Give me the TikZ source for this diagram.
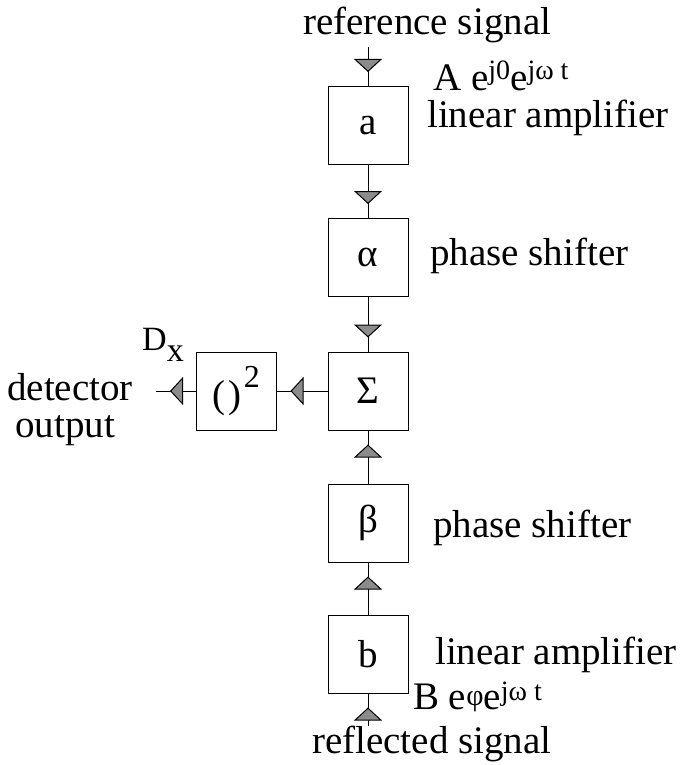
\documentclass[tikz,border=0pt]{standalone}
\usepackage{fontspec}
\setmainfont{Liberation Serif}
\usetikzlibrary{arrows.meta, decorations.markings}

% raised small text for the exponents
\newcommand{\upper}[2][11pt]{\raisebox{#1}{\fontsize{28}{28}\selectfont #2}}

\begin{document}
\begin{tikzpicture}[x=1pt,y=-1pt,
    blk/.style={draw, line width=1pt, minimum width=80pt, minimum height=78pt,
        inner sep=0pt, font=\fontsize{39}{40}\selectfont},
    txt/.style={inner sep=0pt, anchor=base west, font=\fontsize{39}{40}\selectfont},
    feed/.style={line width=1pt,
        decoration={markings, mark=at position -14pt with
            {\arrow{Triangle[width=28pt,length=13pt,fill=gray!90]}}},
        postaction={decorate}}]
    \useasboundingbox (0,0) rectangle (681,765);

    % Blocks
    \node[blk] (a) at (368,125.5) {a};
    \node[blk] (alpha) at (368,257.5) {α};
    \node[blk] (sum) at (368,391) {Σ};
    \node[blk] (beta) at (368,523) {β};
    \node[blk] (b) at (368,654) {b};
    \node[blk] (sq) at (236,391) {(\kern4pt)\kern2pt\raisebox{20pt}{\fontsize{32}{32}\selectfont 2}};

    % Free ends
    \coordinate (top) at (368,47);
    \coordinate (bot) at (368,726);
    \coordinate (out) at (156,391);

    % Signal path
    \draw[feed] (top) -- (a);
    \draw[feed] (a) -- (alpha);
    \draw[feed] (alpha) -- (sum);
    \draw[feed] (beta) -- (sum);
    \draw[feed] (b) -- (beta);
    \draw[feed] (bot) -- (b);
    \draw[feed] (sum) -- (sq);
    \draw[feed] (sq) -- (out);

    % Labels
    \node[txt] (ref) at (303,35) {reference signal};
    \node[txt] (ain) at (433,91) {A e\upper{j0}e\upper{jω t}};
    \node[txt] (lina) at (427,128) {linear amplifier};
    \node[txt] (pha) at (430,265) {phase shifter};
    \node[txt, font=\fontsize{34}{34}\selectfont] (dx) at (142,350) {D\raisebox{-11pt}{x}};
    \node[txt] (det) at (7,400) {detector};
    \node[txt] (outp) at (15,437) {output};
    \node[txt] (phb) at (433,537) {phase shifter};
    \node[txt] (linb) at (435,664) {linear amplifier};
    \node[txt] (bin) at (413,709) {B e\upper[4pt]{\fontsize{30}{30}\selectfont φ}e\upper[9pt]{jω t}};
    \node[txt] (refl) at (312,753) {reflected signal};
\end{tikzpicture}
\end{document}
